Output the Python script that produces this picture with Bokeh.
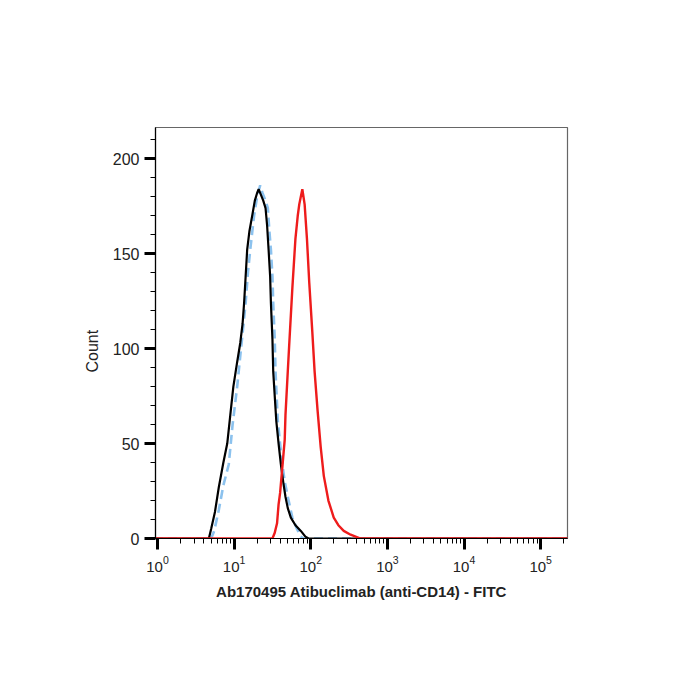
from bokeh.plotting import figure
from bokeh.models import FixedTicker, Range1d, Title
from bokeh.embed import file_html
from bokeh.resources import INLINE

# ---- data ----
x_ticks = [1, 10, 100, 1000, 10000, 100000]
x_minor = [m * 10 ** e for e in range(-1, 6) for m in range(2, 10)]
y_ticks = [0, 50, 100, 150, 200]
y_minor = list(range(10, 220, 10))

# control (black solid)
control_x = [0.9, 4.68, 5.01, 5.62, 6.31, 7.24, 8.13, 8.91, 9.77, 10.96, 12.02, 12.88,
             13.49, 14.13, 14.79, 15.85, 17.38, 18.62, 19.95, 20.89, 22.39, 23.99, 25.70,
             26.92, 28.18, 29.51, 30.20, 31.62, 32.36, 33.88, 35.48, 38.02, 40.74, 43.65,
             46.77, 50.12, 54.95, 63.10, 74.13, 85.11, 93.33, 250000]
control_count = [0, 0, 5, 14, 27, 40, 50, 65, 80, 93, 103, 113,
                 124, 138, 152, 162, 171, 178, 182, 184, 181, 178, 174,
                 165, 152, 138, 124, 105, 88, 75, 62, 50, 39, 30,
                 22, 16, 11, 7, 4, 1, 0, 0]

# isotype (light blue dashed)
isotype_x = [0.9, 5.01, 5.50, 6.31, 7.24, 8.51, 9.55, 10.96, 12.30, 14.13, 15.14, 16.22,
             18.20, 19.95, 21.88, 23.44, 25.70, 27.54, 28.84, 30.20, 31.62, 32.36, 33.88,
             34.67, 37.15, 39.81, 42.66, 45.71, 50.12, 57.54, 66.07, 74.13, 79.43, 250000]
isotype_count = [0, 0, 4, 15, 28, 39, 60, 80, 100, 124, 140, 152,
                 170, 180, 186, 182, 178, 174, 162, 152, 138, 124, 105,
                 88, 62, 50, 39, 30, 22, 11, 5, 1, 0, 0]

# Ab170495 stained (red)
stained_x = [0.9, 31.62, 33.88, 36.31, 38.02, 39.81, 42.66, 45.71, 46.77, 50.12, 52.48,
             57.54, 63.10, 67.61, 70.79, 77.62, 83.18, 89.13, 95.50, 104.7, 112.2, 123.0,
             134.9, 147.9, 169.8, 199.5, 229.1, 269.2, 331.1, 446.7, 250000]
stained_count = [0, 0, 3, 8, 18, 24, 38, 52, 65, 88, 103,
                 132, 158, 170, 176, 184, 176, 158, 135, 109, 88, 67,
                 48, 33, 20, 11, 7, 4, 2, 0, 0]

x_label = "Ab170495 Atibuclimab (anti-CD14) - FITC"
y_label = "Count"

# ---- figure ----
p = figure(width=700, height=700, x_axis_type="log",
           x_range=Range1d(10 ** -0.026, 10 ** 5.35), y_range=Range1d(0, 216.5),
           output_backend="svg", toolbar_location=None,
           min_border_left=155, min_border_right=133,
           min_border_top=127, min_border_bottom=162)

p.grid.visible = False
p.outline_line_color = "#666666"
p.outline_line_width = 1.2
p.background_fill_color = "white"
p.border_fill_color = "white"

p.line(isotype_x, isotype_count, line_color="#8cc2ee", line_width=2.6, line_dash="9 5")
p.line(control_x, control_count, line_color="black", line_width=2.2)
p.line(stained_x, stained_count, line_color="#ee1c1c", line_width=2.4)

for ax in (p.xaxis[0], p.yaxis[0]):
    ax.axis_line_color = "black"
    ax.axis_line_width = 1.2
    ax.major_tick_line_width = 3
    ax.major_tick_line_color = "black"
    ax.minor_tick_line_color = "black"
    ax.minor_tick_line_width = 1
    ax.major_tick_in = 0
    ax.minor_tick_in = 0
    ax.major_tick_out = 11
    ax.minor_tick_out = 5
    ax.major_label_text_font = "Liberation Sans"
    ax.major_label_text_font_size = "16px"
    ax.major_label_text_color = "#222222"
    ax.axis_label_text_font = "Liberation Sans"
    ax.axis_label_text_color = "#222222"

p.xaxis[0].ticker = FixedTicker(ticks=x_ticks, minor_ticks=x_minor)
p.yaxis[0].ticker = FixedTicker(ticks=y_ticks, minor_ticks=y_minor)

p.xaxis[0].major_label_text_font_size = "15px"
p.xaxis[0].major_label_standoff = 6

p.xaxis[0].axis_label = x_label
p.xaxis[0].axis_label_text_font_style = "bold"
p.xaxis[0].axis_label_text_font_size = "15px"
p.xaxis[0].axis_label_standoff = 8

p.yaxis[0].major_label_standoff = 5

# y label placed as a side title so it can sit below the frame centre, as in the original
p.add_layout(Title(text=y_label, align="left", offset=166, standoff=18,
                   text_font="Liberation Sans", text_font_size="16px",
                   text_font_style="normal", text_color="#222222"), "left")

open("out.html", "w").write(file_html(p, INLINE))
